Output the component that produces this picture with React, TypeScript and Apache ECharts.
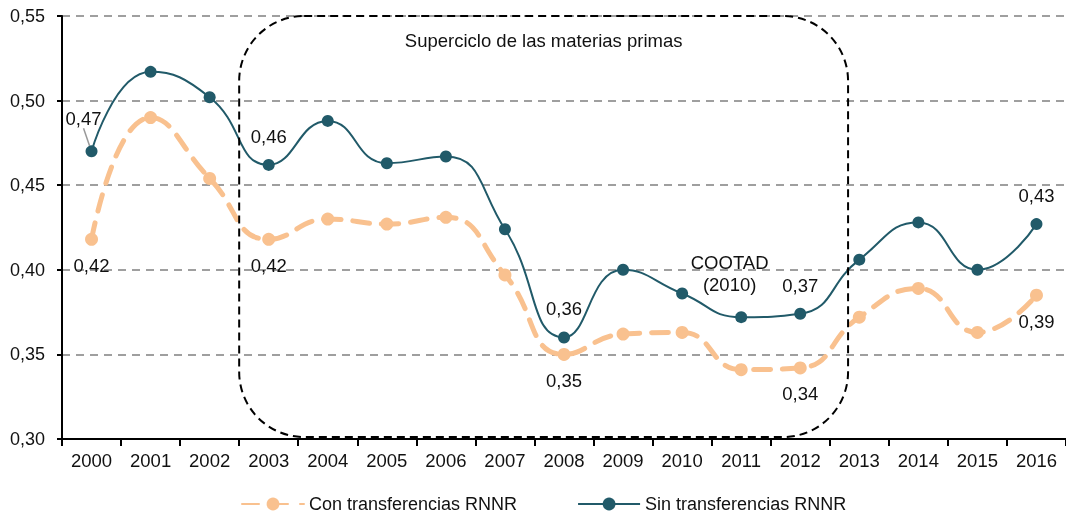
import React, { useEffect, useRef } from "react";
import * as echarts from "echarts";

const years = ["2000","2001","2002","2003","2004","2005","2006","2007","2008","2009","2010","2011","2012","2013","2014","2015","2016"];
const conValues = [0.418,0.490,0.454,0.418,0.430,0.427,0.431,0.397,0.350,0.362,0.363,0.341,0.342,0.372,0.389,0.363,0.385];
const sinValues = [0.470,0.517,0.502,0.462,0.488,0.463,0.467,0.424,0.360,0.400,0.386,0.372,0.374,0.406,0.428,0.400,0.427];
const labeledIdx = [0, 3, 8, 12, 16];
const yTicks = { min: 0.30, max: 0.55, interval: 0.05 };
const conName = "Con transferencias RNNR";
const sinName = "Sin transferencias RNNR";
const boxTitle = "Superciclo de las materias primas";
const cootadText = "COOTAD\n(2010)";

const fmt = (v: number) => v.toFixed(2).replace(".", ",");
const FONT = "Liberation Sans, Arial, sans-serif";

export default function App() {
  const ref = useRef<HTMLDivElement>(null);
  useEffect(() => {
    if (!ref.current) return;
    const chart = echarts.init(ref.current, null, { renderer: "svg" });
    const mk = (vals: number[], pos: string, dist: number, leaderIdx: number) =>
      vals.map((v, i) => ({
        value: v,
        label: labeledIdx.includes(i)
          ? { show: true, position: pos, distance: dist, formatter: (p: any) => fmt(p.value), fontSize: 18.5, color: "#111", fontFamily: FONT }
          : { show: false },
        labelLine: { show: i === leaderIdx, lineStyle: { color: "#999", width: 1.5 } },
      }));
    chart.setOption({
      animation: false,
      grid: { left: 62, right: -4, top: 16, bottom: 79 },
      legend: {
        top: 490,
        left: 236,
        itemWidth: 62,
        itemHeight: 16,
        itemGap: 60,
        textStyle: { fontSize: 18, color: "#111", fontFamily: FONT },
        data: [conName, sinName],
      },
      xAxis: {
        type: "category",
        data: years,
        boundaryGap: true,
        axisLine: { lineStyle: { color: "#000", width: 2 } },
        axisTick: { show: true, length: 7, lineStyle: { color: "#000", width: 2 } },
        axisLabel: { fontSize: 18.5, color: "#111", margin: 12, fontFamily: FONT },
      },
      yAxis: {
        type: "value",
        min: yTicks.min,
        max: yTicks.max,
        interval: yTicks.interval,
        axisLine: { show: true, lineStyle: { color: "#000", width: 2 } },
        axisTick: { show: true, length: 5, lineStyle: { color: "#000", width: 2 } },
        axisLabel: { fontSize: 18, color: "#111", margin: 17, formatter: (v: number) => fmt(v), fontFamily: FONT },
        splitLine: { show: true, lineStyle: { color: "#808080", width: 1.5, type: [8, 6] } },
      },
      series: [
        {
          name: conName,
          type: "line",
          smooth: 0.5,
          data: mk(conValues, "bottom", 10, -1),
          symbol: "circle",
          symbolSize: 13,
          itemStyle: { color: "#F9C18F" },
          lineStyle: { color: "#F9C18F", width: 5, type: [17, 12], cap: "round" },
          z: 2,
        },
        {
          name: sinName,
          type: "line",
          smooth: 0.5,
          data: mk(sinValues, "top", 13, 0),
          symbol: "circle",
          symbolSize: 12,
          itemStyle: { color: "#215A69" },
          lineStyle: { color: "#215A69", width: 2 },
          labelLayout: (p: any) => (p.dataIndex === 0 ? { dx: -8, dy: -4 } : {}),
          z: 3,
        },
      ],
    });
    const px = (i: number) => (chart.convertToPixel({ xAxisIndex: 0 }, i) as number);
    const py = (v: number) => (chart.convertToPixel({ yAxisIndex: 0 }, v) as number);
    const x0 = (px(2) + px(3)) / 2;
    const x1 = px(12) + 0.81 * (px(13) - px(12));
    const y0 = py(0.55);
    const y1 = py(0.30) - 2;
    chart.setOption({
      graphic: [
        {
          type: "rect",
          shape: { x: x0, y: y0, width: x1 - x0, height: y1 - y0, r: 65 },
          style: { fill: "none", stroke: "#000", lineWidth: 2, lineDash: [8, 5] },
          z: 10,
        },
        {
          type: "text",
          x: (x0 + x1) / 2,
          y: y0 + 24,
          style: { text: boxTitle, fontSize: 18.5, fill: "#111", align: "center", verticalAlign: "middle", fontFamily: FONT },
          z: 10,
        },
        {
          type: "text",
          x: (px(10) + px(11)) / 2 + 18,
          y: py(0.40) + 4,
          style: { text: cootadText, fontSize: 18.5, fill: "#111", align: "center", verticalAlign: "middle", lineHeight: 22, fontFamily: FONT },
          z: 10,
        },
      ],
    });
    return () => chart.dispose();
  }, []);
  return <div ref={ref} style={{ position: "fixed", left: 0, top: 0, width: 1066, height: 518 }} />;
}
